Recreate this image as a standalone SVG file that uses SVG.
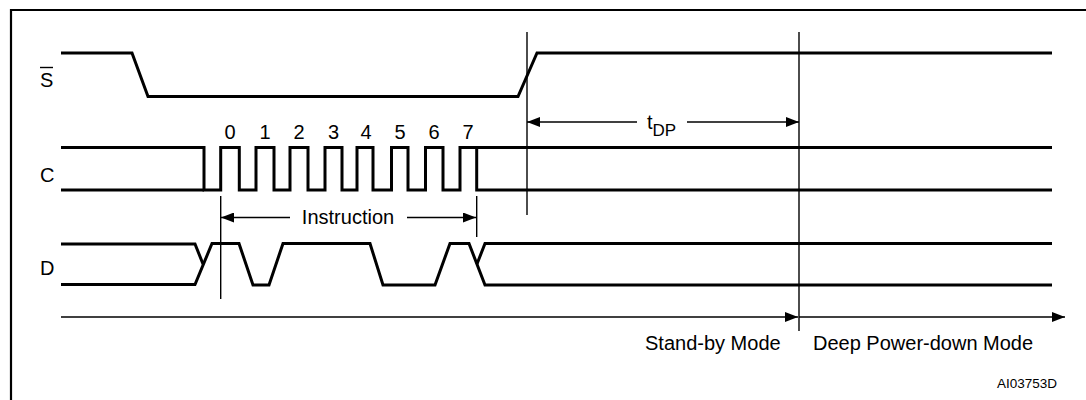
<svg xmlns="http://www.w3.org/2000/svg" width="1086" height="400" viewBox="0 0 1086 400">
<style>
.sig{fill:none;stroke:#000;stroke-width:3;stroke-linejoin:miter}
.thin{fill:none;stroke:#000;stroke-width:1.4}
.frame{fill:none;stroke:#000;stroke-width:2.2}
text{font-family:"Liberation Sans",Arial,sans-serif;fill:#000}
.lbl{font-size:20px}
.small{font-size:13.5px}
</style>
<defs>
<marker id="arr" viewBox="0 0 13 10" markerWidth="13" markerHeight="10" refX="13" refY="5" markerUnits="userSpaceOnUse" orient="auto-start-reverse">
<path d="M0,0 L13,5 L0,10 z" fill="#000"/>
</marker>
</defs>
<rect width="1086" height="400" fill="#fff"/>
<path class="frame" d="M11,400 V10 H1086"/>
<g id="signal-S">
<path class="sig" d="M61,53 H132 L148,96.5 H518 L537,53 H1052"/>
<text class="lbl" x="40" y="87">S</text>
<line class="thin" x1="40" y1="67.5" x2="53" y2="67.5"/>
</g>
<g id="signal-C">
<path class="sig" d="M61,147.5 H204 V190 H220.7 V147.5 H239.3 V190 H256 V147.5 H274 V190 H290 V147.5 H308 V190 H325 V147.5 H342 V190 H357 V147.5 H373 V190 H391.5 V147.5 H408 V190 H425.5 V147.5 H443 V190 H460 V147.5 H1052"/>
<path class="sig" d="M61,190 H204"/>
<path class="sig" d="M476.7,147.5 V190 H1052"/>
<text class="lbl" x="40" y="182">C</text>
<g class="lbl" text-anchor="middle">
<text x="230" y="138.5">0</text>
<text x="265" y="138.5">1</text>
<text x="299" y="138.5">2</text>
<text x="333.5" y="138.5">3</text>
<text x="366" y="138.5">4</text>
<text x="400" y="138.5">5</text>
<text x="434" y="138.5">6</text>
<text x="468" y="138.5">7</text>
</g>
</g>
<g id="signal-D">
<path class="sig" d="M61,244 H195 L203,264"/>
<path class="sig" d="M61,284.5 H195 L212,243.5 H239 L253,285 H269 L283,243.5 H370 L383,285 H435 L450,243.5 H469 L485,285 H1052"/>
<path class="sig" d="M1052,243.5 H485 L477,264"/>
<text class="lbl" x="40" y="275">D</text>
</g>
<g id="connectors">
<line class="thin" x1="220.7" y1="196" x2="220.7" y2="299"/>
<line class="thin" x1="476.7" y1="196" x2="476.7" y2="237"/>
<line class="thin" x1="527" y1="32" x2="527" y2="215"/>
<line class="thin" x1="799" y1="32" x2="799" y2="331"/>
<path class="thin" d="M290,217.5 H221" marker-end="url(#arr)"/>
<path class="thin" d="M407,217.5 H476" marker-end="url(#arr)"/>
<path class="thin" d="M637,122 H527" marker-end="url(#arr)"/>
<path class="thin" d="M687,122 H799" marker-end="url(#arr)"/>
<path class="thin" d="M61,317 H798" marker-end="url(#arr)"/>
<path class="thin" d="M799,317 H1065" marker-end="url(#arr)"/>
</g>
<g id="labels">
<text class="lbl" x="348" y="224" text-anchor="middle">Instruction</text>
<text class="lbl" x="647" y="129">t<tspan dy="7" font-size="17">DP</tspan></text>
<text class="lbl" x="645" y="350">Stand-by Mode</text>
<text class="lbl" x="813" y="350">Deep Power-down Mode</text>
<text class="small" x="1057" y="388" text-anchor="end">AI03753D</text>
</g>
</svg>
